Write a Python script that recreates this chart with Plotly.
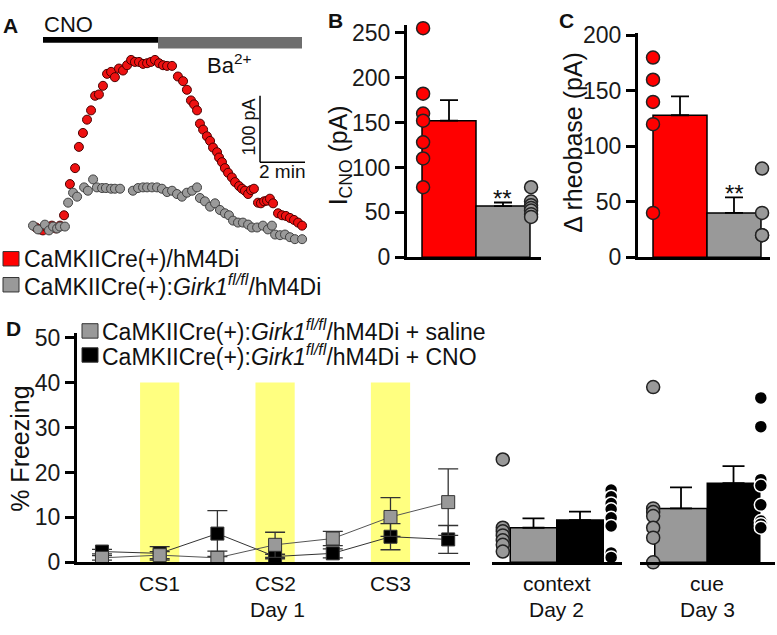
import plotly.graph_objects as go

W, H = 777, 635
FONT = "Liberation Sans, Arial, sans-serif"
RED = "#ff0000"
GREY = "#999999"

# ---- A: CNO-evoked holding current, example cells (time in min, current in pA)
red_t = [0.13, 0.31, 0.44, 0.62, 0.84, 1.02, 1.2, 1.38, 1.64, 1.87, 2.04, 2.22, 2.4, 2.58,
         2.76, 2.93, 3.11, 3.29, 3.47, 3.64, 3.82, 4.0, 4.18, 4.36, 4.53, 4.71, 4.89, 5.07,
         5.24, 5.42, 5.6, 5.78, 5.96, 6.18, 6.44, 6.67, 6.84, 7.02, 7.16, 7.29, 7.42, 7.56,
         7.73, 7.87, 8.0, 8.18, 8.27, 8.4, 8.53, 8.67, 8.84, 8.98, 9.16, 9.29, 9.42, 9.56,
         9.69, 9.82, 10.0, 10.13, 10.27, 10.4, 10.53, 10.67, 10.89, 11.07, 11.24, 11.42,
         11.6, 11.78, 11.96]
red_pa = [-1.4, -4.3, -5.8, -1.4, 1.4, -2.9, 1.4, 17, 64, 88, 120, 141, 161, 175,
          197, 199, 212, 230, 233, 225, 238, 235, 243, 251, 248, 248, 245, 246,
          248, 251, 246, 243, 242, 242, 226, 219, 206, 190, 184, 175, 155, 146,
          136, 129, 119, 112, 104, 97, 88, 81, 74, 67, 61, 57, 54, 49,
          55, 57, 36, 35, 38, 39, 42, 35, 20, 17, 16, 13,
          10, 6, 1.4]
grey_t = [0.0, 0.22, 0.53, 0.71, 0.89, 1.07, 1.2, 1.42, 1.56, 1.78, 1.96, 2.27, 2.44, 2.67,
          2.84, 3.07, 3.24, 3.47, 3.64, 3.87, 4.44, 4.67, 4.89, 5.07, 5.29, 5.51, 5.73, 5.96,
          6.18, 6.4, 6.62, 6.84, 7.07, 7.29, 7.42, 7.64, 7.87, 8.09, 8.31, 8.53, 8.71, 8.89,
          9.11, 9.33, 9.56, 9.73, 9.96, 10.22, 10.44, 10.62, 10.76, 10.98, 11.2, 11.42,
          11.64, 11.96]
grey_pa = [1.4, -4.3, 2.9, -5.8, 0, -2.9, 0, 0, 36, 51, 45, 59, 54, 71,
           59, 58, 58, 57, 57, 57, 54, 58, 59, 59, 59, 59, 57, 52,
           54, 49, 45, 51, 54, 59, 43, 38, 30, 35, 25, 20, 17, 9,
           6, 6, 3, -1.4, -1.4, 1.4, -4.3, 1.4, -12, -13, -12, -16,
           -19, -19]

# ---- B: I_CNO (pA)
b_mean = [152, 57]
b_sem = [23, 4]
b_red = [255, 182, 160, 152, 128, 110, 78]
b_grey = [78, 62, 58, 55, 52, 48, 45]

# ---- C: delta rheobase (pA)
c_mean = [128, 40]
c_sem = [17, 14]
c_red = [180, 160, 140, 120, 40]
c_grey = [80, 40, 20, 20]

# ---- D: % freezing
day1_trials = [0, 1, 2, 3, 4, 5, 6]
cs_trials = [1, 3, 5]
cs_labels = ["CS1", "CS2", "CS3"]
sal_mean = [1.0, 1.6, 1.0, 3.9, 5.3, 10.1, 13.4]
sal_sem = [0.5, 0.8, 1.5, 2.8, 1.6, 4.3, 7.4]
cno_mean = [2.4, 2.0, 6.4, 1.3, 2.0, 5.7, 5.1]
cno_sem = [0.5, 1.5, 5.1, 0.5, 1.0, 2.9, 3.1]

ctx_mean = [7.7, 9.4]
ctx_sem = [2.1, 1.9]
ctx_sal = [22.9, 7.7, 6.9, 6.0, 4.9, 3.9, 2.4]
ctx_cno = [16.1, 14.6, 13.1, 11.8, 9.9, 8.1, 2.1, 1.1]
cue_mean = [12.0, 17.6]
cue_sem = [4.7, 3.8]
cue_sal = [39.0, 12.0, 11.2, 10.3, 7.7, 5.5, 0.0]
cue_cno = [36.6, 30.2, 18.4, 17.1, 12.8, 9.2, 8.5, 7.7]


def dx(a, b):
    return [a / W, b / W]


def dy(top, bot):
    return [1 - bot / H, 1 - top / H]


def px(x):
    return x / W


def py(y):
    return 1 - y / H


fig = go.Figure()

# A traces
fig.add_trace(go.Scatter(x=red_t, y=red_pa, mode="markers", xaxis="x", yaxis="y",
                         marker=dict(size=9, color="#ee1111", line=dict(color="#4a0000", width=1))))
fig.add_trace(go.Scatter(x=grey_t, y=grey_pa, mode="markers", xaxis="x", yaxis="y",
                         marker=dict(size=9, color="#9a9a9a", line=dict(color="#404040", width=1))))


def bar_panel(xa, ya, means, sems, colors, left_pts, right_pts, left_col, right_col,
              dot_off, cap, dot_line):
    fig.add_trace(go.Bar(x=[0, 1], y=means, width=1, xaxis=xa, yaxis=ya,
                         marker=dict(color=colors, line=dict(color="black", width=1.5)),
                         error_y=dict(type="data", array=sems, arrayminus=[0, 0], symmetric=False,
                                      color="black", thickness=1.8, width=cap)))
    fig.add_trace(go.Scatter(x=[0 - dot_off[0]] * len(left_pts), y=left_pts, mode="markers",
                             xaxis=xa, yaxis=ya, cliponaxis=False,
                             marker=dict(size=13, color=left_col, line=dot_line[0])))
    fig.add_trace(go.Scatter(x=[1 + dot_off[1]] * len(right_pts), y=right_pts, mode="markers",
                             xaxis=xa, yaxis=ya, cliponaxis=False,
                             marker=dict(size=13, color=right_col, line=dot_line[1])))


dark = dict(color="#222222", width=1.5)
white = dict(color="white", width=1.5)
bar_panel("x2", "y2", b_mean, b_sem, [RED, GREY], b_red, b_grey, RED, GREY,
          [0.48, 0.52], 9, [dark, dark])
bar_panel("x3", "y3", c_mean, c_sem, [RED, GREY], c_red, c_grey, RED, GREY,
          [0.5, 0.52], 9, [dark, dark])

# D line plot
fig.add_trace(go.Scatter(x=day1_trials, y=cno_mean, mode="lines+markers", xaxis="x4", yaxis="y4",
                         cliponaxis=False,
                         line=dict(color="#333333", width=1),
                         marker=dict(symbol="square", size=13, color="black",
                                     line=dict(color="#333333", width=1)),
                         error_y=dict(type="data", array=cno_sem, color="#333333",
                                      thickness=1.3, width=10)))
fig.add_trace(go.Scatter(x=day1_trials, y=sal_mean, mode="lines+markers", xaxis="x4", yaxis="y4",
                         cliponaxis=False,
                         line=dict(color="#555555", width=1),
                         marker=dict(symbol="square", size=13, color=GREY,
                                     line=dict(color="#333333", width=1)),
                         error_y=dict(type="data", array=sal_sem, color="#333333",
                                      thickness=1.3, width=10)))

bar_panel("x5", "y5", ctx_mean, ctx_sem, [GREY, "black"], ctx_sal, ctx_cno, GREY, "black",
          [0.66, 0.67], 11, [dark, white])
bar_panel("x6", "y6", cue_mean, cue_sem, [GREY, "black"], cue_sal, cue_cno, GREY, "black",
          [0.53, 0.52], 11, [dark, white])

line_ax = dict(showline=True, linewidth=3, linecolor="black", showgrid=False, zeroline=False,
               fixedrange=True)
yt = dict(ticks="outside", ticklen=9, tickwidth=2.5, tickcolor="black",
          tickfont=dict(size=23, color="#1a1a1a"))
xt = dict(ticks="", showticklabels=False)
hidden = dict(visible=False, fixedrange=True)

d_top = 573 - 51 * 4.67
fig.update_layout(
    width=W, height=H, margin=dict(l=0, r=0, t=0, b=0), autosize=False,
    paper_bgcolor="white", plot_bgcolor="rgba(0,0,0,0)", showlegend=False,
    font=dict(family=FONT, size=22, color="#1a1a1a"), barmode="overlay",
    xaxis=dict(domain=dx(20, 320), range=[-0.578, 12.756], **hidden),
    yaxis=dict(domain=dy(40, 245), range=[-30.4, 266.7], **hidden),
    xaxis2=dict(domain=dx(407, 541), range=[-0.778, 1.704], anchor="y2", **line_ax, **xt),
    yaxis2=dict(domain=dy(15, 256), range=[0, 258], anchor="x2",
                tickvals=[0, 50, 100, 150, 200, 250], **line_ax, **yt),
    xaxis3=dict(domain=dx(638, 770), range=[-0.778, 1.667], anchor="y3", **line_ax, **xt),
    yaxis3=dict(domain=dy(23, 256), range=[0, 202], anchor="x3",
                tickvals=[0, 50, 100, 150, 200], **line_ax, **yt),
    xaxis4=dict(domain=dx(77, 470), range=[-0.433, 6.378], anchor="y4", **line_ax, **xt),
    yaxis4=dict(domain=dy(d_top, 573), range=[0, 51], anchor="x4",
                tickvals=[0, 10, 20, 30, 40, 50], **line_ax, **yt),
    xaxis5=dict(domain=dx(492, 622), range=[-0.892, 1.903], anchor="y5", **line_ax, **xt),
    yaxis5=dict(domain=dy(d_top, 573), range=[0, 51], anchor="x5", **hidden),
    xaxis6=dict(domain=dx(640, 775), range=[-0.781, 1.79], anchor="y6", **line_ax, **xt),
    yaxis6=dict(domain=dy(d_top, 573), range=[0, 51], anchor="x6", **hidden),
)

shapes = []
# CS shading
for i in cs_trials:
    shapes.append(dict(type="rect", xref="x4", yref="y4", x0=i - 0.34, x1=i + 0.34, y0=0, y1=40,
                       fillcolor="#ffff80", line=dict(width=0), layer="below"))
# drug application bars
shapes.append(dict(type="rect", xref="paper", yref="paper", x0=px(158), x1=px(302), y0=py(39), y1=py(27),
                   fillcolor="#6e6e6e", line=dict(width=0)))
shapes.append(dict(type="rect", xref="paper", yref="paper", x0=px(43), x1=px(158), y0=py(33), y1=py(27),
                   fillcolor="black", line=dict(width=0)))
# scale bar (100 pA, 2 min)
shapes.append(dict(type="line", xref="x", yref="y", x0=10.09, x1=10.09, y0=97, y1=197,
                   line=dict(color="black", width=1.5)))
shapes.append(dict(type="line", xref="x", yref="y", x0=10.09, x1=12.09, y0=97, y1=97,
                   line=dict(color="black", width=1.5)))
# legend swatches
for (x0, y0, col) in [(3, 250, RED), (3, 277, GREY), (82, 325, GREY), (82, 350, "black")]:
    shapes.append(dict(type="rect", xref="paper", yref="paper", x0=px(x0), x1=px(x0 + 16),
                       y0=py(y0 + 15), y1=py(y0), fillcolor=col,
                       line=dict(color="#333333", width=1)))
fig.update_layout(shapes=shapes)

anns = []


def ann(text, x, y, size=22, xanchor="center", angle=0, bold=False, **kw):
    if bold:
        text = "<b>" + text + "</b>"
    anns.append(dict(text=text, x=px(x), y=py(y), xref="paper", yref="paper", showarrow=False,
                     xanchor=xanchor, yanchor="middle", textangle=angle,
                     font=dict(size=size, family=FONT, color="#111111"), **kw))


ann("A", 10, 15, 21, bold=True)
ann("B", 335, 10, 21, bold=True)
ann("C", 566, 10, 21, bold=True)
ann("D", 13, 330, 21, bold=True)
ann("CNO", 42, 14, 22, xanchor="left")
ann("Ba<sup>2+</sup>", 205, 55, 22, xanchor="left")
ann("100 pA", 249, 121, 18, angle=-90)
ann("2 min", 282, 167, 19)
girk = "CaMKIICre(+):<i>Girk1</i><sup><i>fl/fl</i></sup>/hM4Di"
ann("CaMKIICre(+)/hM4Di", 22, 258, 23, xanchor="left")
ann(girk, 22, 285, 23, xanchor="left")
ann(girk + " + saline", 100, 332, 23, xanchor="left")
ann(girk + " + CNO", 100, 357, 23, xanchor="left")
ann("I<sub>CNO</sub> (pA)", 340, 150, 25, angle=-90)
ann("\u0394 rheobase (pA)", 573, 137, 25, angle=-90)
ann("% Freezing", 20, 455, 25, angle=-90)
ann("**", 502, 195, 24)
ann("**", 734, 190, 24)
for i, lab in zip(cs_trials, cs_labels):
    anns.append(dict(text=lab, x=i, y=py(595), xref="x4", yref="paper", showarrow=False,
                     yanchor="middle", font=dict(size=21, family=FONT, color="#111111")))
ann("Day 1", 277, 622, 21)
for xa, l1, l2 in [("x5", "context", "Day 2"), ("x6", "cue", "Day 3")]:
    for lab, yy in [(l1, 595), (l2, 622)]:
        anns.append(dict(text=lab, x=0.5, y=py(yy), xref=xa, yref="paper", showarrow=False,
                         yanchor="middle", font=dict(size=21, family=FONT, color="#111111")))
fig.update_layout(annotations=anns)

fig.write_html("out.html", post_script="document.body.style.margin='0';",
               config={"displayModeBar": False})
